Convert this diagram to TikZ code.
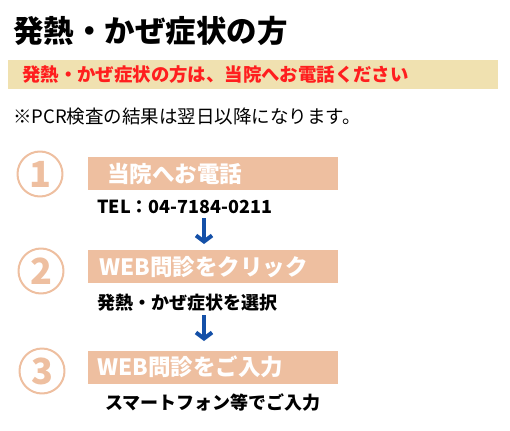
\documentclass[tikz,border=0pt]{standalone}
\usepackage{fontspec}
\usepackage{xcolor}
\usepackage{tikz}
\usetikzlibrary{arrows.meta}
\setmainfont{Noto Sans CJK JP}
\definecolor{bannerbg}{HTML}{F0E1B0}
\definecolor{bannerred}{HTML}{FF1E1E}
\definecolor{stepbg}{HTML}{EEBFA0}
\definecolor{flowblue}{HTML}{1450A8}

\begin{document}
\begin{tikzpicture}[
      x=1pt, y=-1pt,
      line cap=round,
      line join=round,
      every node/.style={inner sep=0pt, anchor=west},
      stepbar/.style={fill=stepbg, minimum width=250pt, minimum height=33pt,
        anchor=north west},
      steplabel/.style={font=\bfseries\fontsize{22.5}{22.5}\selectfont, text=white},
      stepnum/.style={circle, draw=stepbg, line width=2pt, minimum size=45pt,
        anchor=center, text=stepbg, font=\bfseries\fontsize{36}{36}\selectfont},
      stepnote/.style={font=\bfseries\fontsize{18}{18}\selectfont},
      downarrow/.style={flowblue, line width=4pt, line cap=butt,
        -{Straight Barb[length=6pt, width=16pt, line width=4pt]}},
    ]
    \useasboundingbox (0,0) rectangle (510,430);
    %% Heading and notice bar.
    \node[font=\bfseries\fontsize{30.5}{30.5}\selectfont] (title) at (13,31)
      {発熱・かぜ症状の方};
    \fill[bannerbg] (8,60) rectangle (498,89);
    \node[font=\bfseries\fontsize{18.4}{18.4}\selectfont, text=bannerred] (notice)
      at (22,75) {発熱・かぜ症状の方は、当院へお電話ください};
    \node[font=\fontsize{18.5}{18.5}\selectfont] (pcr) at (13,117)
      {※PCR検査の結果は翌日以降になります。};
    %% Step 1.
    \node[stepnum] (num1) at (40,174) {1};
    \node[stepbar] (bar1) at (88,157) {};
    \node[steplabel] (lab1) at (107,174) {当院へお電話};
    \node[stepnote, font=\bfseries\fontsize{18}{18}\selectfont] (tel) at (97,207)
      {TEL：04-7184-0211};
    %% Step 2.
    \node[stepnum] (num2) at (41,271) {2};
    \node[stepbar] (bar2) at (88,250) {};
    \node[steplabel] (lab2) at (99,267) {WEB問診をクリック};
    \node[stepnote] (choose) at (97,303) {発熱・かぜ症状を選択};
    %% Step 3.
    \node[stepnum] (num3) at (42,371) {3};
    \node[stepbar] (bar3) at (88,351) {};
    \node[steplabel] (lab3) at (97,367) {WEB問診をご入力};
    \node[stepnote] (phone) at (105,403) {スマートフォン等でご入力};
    %% Arrows between the steps.
    \coordinate (a1top) at (204,218);
    \coordinate (a1bot) at (204,244);
    \coordinate (a2top) at (204,315);
    \coordinate (a2bot) at (204,341);
    \draw[downarrow] (a1top) -- (a1bot);
    \draw[downarrow] (a2top) -- (a2bot);
  \end{tikzpicture}
\end{document}
